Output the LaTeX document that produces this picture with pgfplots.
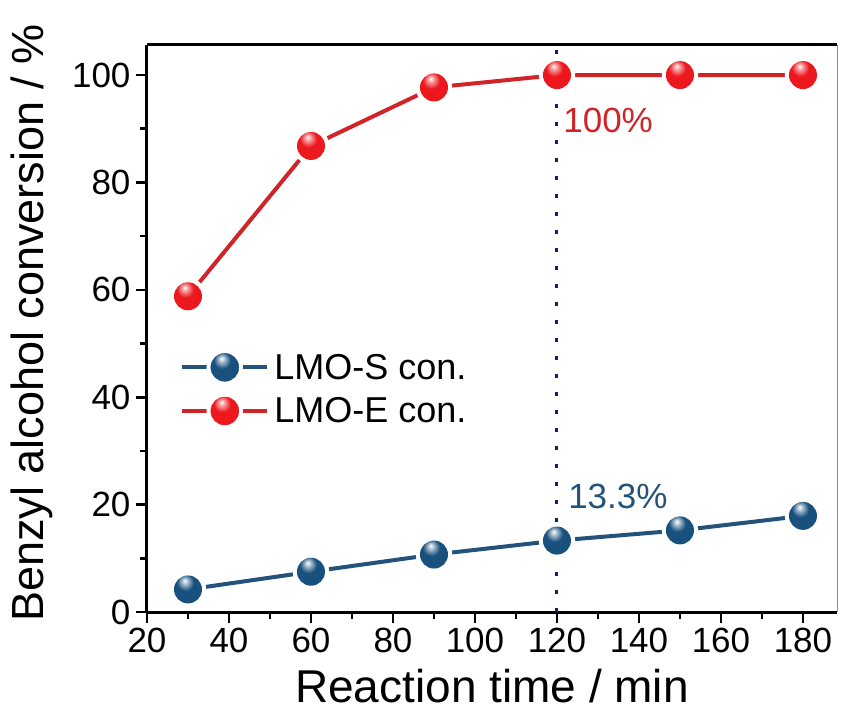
\documentclass[border=0pt]{standalone}
\usepackage{pgfplots}
\pgfplotsset{compat=1.18}
\usepackage{fontspec}
\setmainfont{Liberation Sans}

\definecolor{sblue}{RGB}{24,80,126}
\definecolor{sline}{RGB}{35,82,122}
\definecolor{ered}{RGB}{236,24,30}
\definecolor{eline}{RGB}{208,36,40}
\definecolor{vline}{RGB}{28,28,110}

% glossy spheres for the markers
\pgfdeclareradialshading{sballshade}{\pgfpoint{-6bp}{16bp}}{%
  color(0bp)=(white); color(5bp)=(sblue!35!white); color(15bp)=(sblue);
  color(40bp)=(sblue); color(55bp)=(sblue!80!black); color(70bp)=(sblue!70!black)}
\pgfdeclareradialshading{eballshade}{\pgfpoint{-6bp}{16bp}}{%
  color(0bp)=(white); color(5bp)=(ered!40!white); color(15bp)=(ered);
  color(40bp)=(ered); color(55bp)=(ered!85!black); color(70bp)=(ered!75!black)}
\pgfdeclareplotmark{sball}{%
  \pgfpathcircle{\pgfpointorigin}{\pgfplotmarksize}%
  \pgfshadepath{sballshade}{0}\pgfusepath{discard}}
\pgfdeclareplotmark{eball}{%
  \pgfpathcircle{\pgfpointorigin}{\pgfplotmarksize}%
  \pgfshadepath{eballshade}{0}\pgfusepath{discard}}

\begin{document}
\begin{tikzpicture}
\begin{axis}[
  scale only axis,
  width=690pt, height=567pt,
  xmin=20, xmax=188.3,
  ymin=0, ymax=105.6,
  xtick={20,40,...,180},
  ytick={0,20,...,100},
  minor x tick num=1,
  minor y tick num=1,
  axis lines*=left,
  axis line style={line width=3pt, black},
  tick align=outside,
  major tick length=11pt,
  minor tick length=7pt,
  every tick/.style={line width=2.6pt, black},
  /pgf/number format/assume math mode=true,
  ticklabel style={font=\fontsize{35}{40}\selectfont},
  xticklabel style={yshift=-2pt},
  yticklabel style={xshift=-2pt},
  every axis x label/.style={at={(axis description cs:0.5,-0.13)}, anchor=center,
    font=\fontsize{46}{52}\selectfont},
  every axis y label/.style={at={(axis description cs:-0.167,0.51)}, rotate=90, anchor=center,
    font=\fontsize{45}{50}\selectfont},
  xlabel={Reaction time / min},
  ylabel={Benzyl alcohol conversion / \%},
  legend style={
    at={(axis description cs:0.048,0.393)}, anchor=west,
    draw=none, fill=none, inner sep=0pt,
    font=\fontsize{36}{42}\selectfont,
    row sep=7pt,
    nodes={inner sep=5pt},
  },
  legend cell align=left,
  after end axis/.code={
    \draw[line width=3pt, black] (rel axis cs:0,1) -- (rel axis cs:1,1);
    \draw[line width=1pt, black!45] (rel axis cs:1,0) -- (rel axis cs:1,1);
  },
]

% LMO-S series
\addplot[sline, line width=4pt, mark=none, forget plot]
  coordinates {(30,4.2) (60,7.5) (90,10.7) (120,13.3) (150,15.2) (180,17.9)};
\addplot[white, only marks, mark=*, mark size=18pt, forget plot]
  coordinates {(30,4.2) (60,7.5) (90,10.7) (120,13.3) (150,15.2) (180,17.9)};
\addplot[sblue, only marks, mark=sball, mark size=14pt,
  legend image code/.code={
    \draw[sline, line width=4pt] (0pt,0pt) -- (85pt,0pt);
    \fill[white] (42.5pt,0pt) circle (18pt);
    \shade[shading=sballshade] (42.5pt,0pt) circle (14pt);
  }]
  coordinates {(30,4.2) (60,7.5) (90,10.7) (120,13.3) (150,15.2) (180,17.9)};
\addlegendentry{LMO-S con.}

% LMO-E series
\addplot[eline, line width=4pt, mark=none, forget plot]
  coordinates {(30,58.8) (60,86.8) (90,97.7) (120,100) (150,100) (180,100)};
\addplot[white, only marks, mark=*, mark size=18pt, forget plot]
  coordinates {(30,58.8) (60,86.8) (90,97.7) (120,100) (150,100) (180,100)};
\addplot[ered, only marks, mark=eball, mark size=14pt,
  legend image code/.code={
    \draw[eline, line width=4pt] (0pt,0pt) -- (85pt,0pt);
    \fill[white] (42.5pt,0pt) circle (18pt);
    \shade[shading=eballshade] (42.5pt,0pt) circle (14pt);
  }]
  coordinates {(30,58.8) (60,86.8) (90,97.7) (120,100) (150,100) (180,100)};
\addlegendentry{LMO-E con.}

% reference line at 120 min
\addplot[vline, line width=3pt, dash pattern=on 4pt off 14pt, forget plot]
  coordinates {(120,0) (120,105.6)};

\node[anchor=west, text=eline, font=\fontsize{35}{40}\selectfont, inner sep=0pt]
  at (axis cs:121.5,91.6) {100\%};
\node[anchor=west, text=sline, font=\fontsize{35}{40}\selectfont, inner sep=0pt]
  at (axis cs:122.7,21.6) {13.3\%};
\end{axis}
\pgfresetboundingbox
\path[use as bounding box]
  ([shift={(-147pt,-101pt)}]current axis.south west)
  rectangle ([shift={(7pt,45pt)}]current axis.north east);
\end{tikzpicture}
\end{document}
